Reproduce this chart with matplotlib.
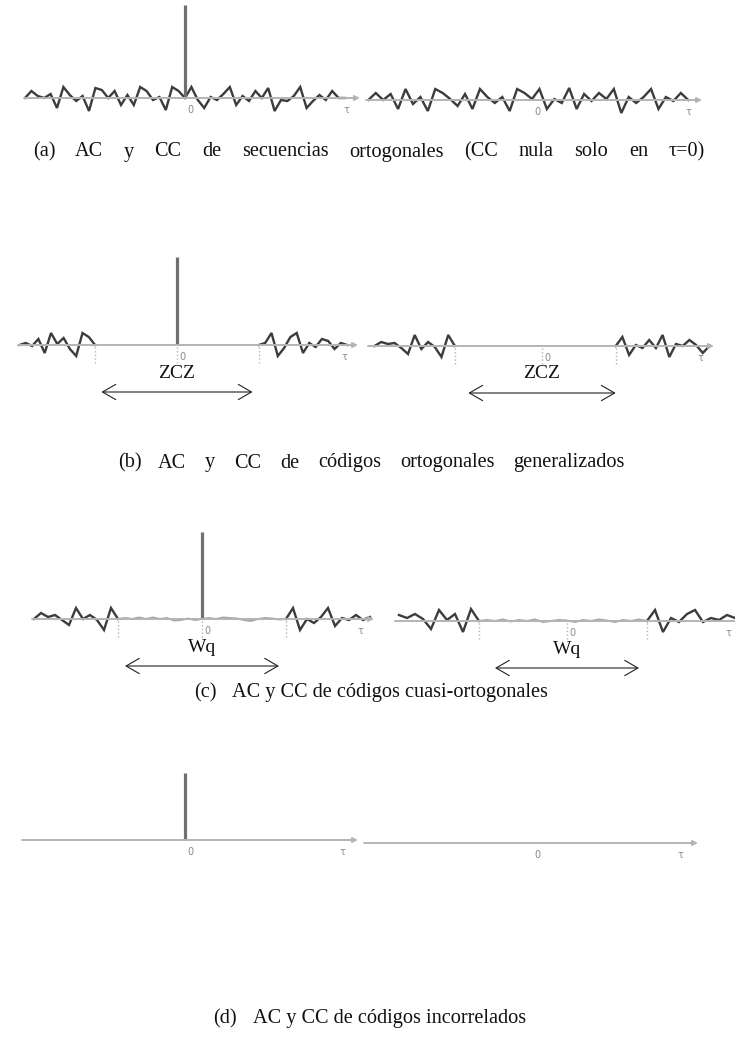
import numpy as np
import matplotlib.pyplot as plt

W, H = 735, 1037

# (a) orthogonal sequences: AC side lobes around the peak, and CC
a_ac_left = [0, 7, 2, 0, 4, -10, 11, 3, -3, 2, -13, 10, 8, 0, 7, -7, 3, -7, 11, 7, -2, 1, -12, 11, 7]
a_ac_right = [11, -2, -10, 1, -2, 4, 11, -7, 2, -3, 7, 0, 10, -13, -2, -3, 2, 11, -10, -3, 3, -2, 7, 0, 0]
a_ac_peak = 93
a_cc = [0, 7, 0, 6, -9, 11, -4, 3, -11, 11, 7, 1, -6, 6, -9, 11, 3, -3, 3, -11, 11, 7,
        1, 11, -9, 1, -3, 12, -9, 6, -1, 7, 1, 11, -13, 3, -3, 3, 11, -9, 3, -1, 7, 0]

# (b) generalized orthogonal codes: zero correlation zone
b_ac_left = [0, 2, -1, 6, -8, 12, 1, 7, -4, -11, 12, 8, 0]
b_ac_right = [0, 2, 12, -11, -3, 8, 12, -8, 2, -2, 6, 4, -4, 2, 0]
b_ac_peak = 88
b_cc_left = [0, 4, 2, 3, -2, -8, 11, -3, 4, -1, -11, 11, 0]
b_cc_right = [0, 9, -9, 1, -2, 6, -2, 11, -11, 2, 0, 6, 1, -7, 0]
b_zcz = [12, 11]

# (c) quasi-orthogonal codes: small residual inside Wq
c_ac_left = [0, 6, 2, 4, -1, -6, 11, 0, 4, -1, -11, 11, 0]
c_ac_ripple = [0, 1, 0, 1.5, 0, 1.5, 0, 1, -1.5, -1, 0.5, -1, 0, 1, 0, 1.5, 1, 0.5, -1, -2, 0, 1, 0.5, -0.5, 0]
c_ac_right = [0, 11, -11, 0, -4, 2, 11, -7, 1, -1, 4, -1, 2]
c_ac_peak = 87
c_cc_left = [6, 3, 7, 2, -8, 11, 1, 7, -11, 12, 0]
c_cc_ripple = [0, 1, 0, 1.5, -0.5, 1, 0, 1.5, -1, 0, 1, 0.5, -1, 1, 0, 1.5, 0.5, -1, 1, 0, 1.5, 0]
c_cc_right = [0, 11, -11, 3, -1, 7, 11, -1, 3, 1, 6, 3]
c_wq = [11, 9]

# (d) uncorrelated codes
d_ac_peak = 67

caption_tags = ["(a)", "(b)", "(c)", "(d)"]
caption_texts = [
    "AC y CC de secuencias ortogonales (CC nula solo en \u03c4=0)",
    "AC y CC de códigos ortogonales generalizados",
    "AC y CC de códigos cuasi-ortogonales",
    "AC y CC de códigos incorrelados",
]

LINE = '#3c3c3c'
AXIS = '#b4b4b4'
SPIKE = '#707070'
RIPPLE = '#a6a6a6'
LABEL = '#8a8a8a'
SERIF = 'Liberation Serif'

fig = plt.figure(figsize=(W / 100, H / 100), dpi=100)


def panel(x0, x1, base, zero, step, tau_off=-14, above=100, below=60):
    ax = fig.add_axes([x0 / W, 1 - (base + below) / H, (x1 - x0) / W, (above + below) / H])
    ax.set_xlim((x0 - zero) / step, (x1 - zero) / step)
    ax.set_ylim(-below, above)
    ax.axis('off')
    lo, hi = ax.get_xlim()
    ax.annotate('', xy=(hi, 0), xytext=(lo, 0),
                arrowprops=dict(arrowstyle='-|>', color=AXIS, lw=1.4, mutation_scale=7,
                                shrinkA=0, shrinkB=0))
    ax.annotate('0', xy=(0, 0), xytext=(5, -12), textcoords='offset pixels',
                fontsize=7, color=LABEL, ha='center', va='center')
    ax.annotate('\u03c4', xy=(hi, 0), xytext=(tau_off, -12), textcoords='offset pixels',
                fontsize=7, color=LABEL, ha='center', va='center')
    return ax


def lobe(ax, start, vals, color=LINE, lw=1.7):
    lags = start + np.arange(len(vals))
    ax.plot(lags, vals, color=color, lw=lw, solid_joinstyle='miter')


def spike(ax, peak):
    ax.vlines(0, 0, peak, color=SPIKE, lw=2.3)


def marks(ax, lags):
    ax.vlines(lags, -18, 0, color=AXIS, lw=1.0, linestyles=':')


def zone(ax, half, text):
    ax.annotate('', xy=(-half, -47), xytext=(half, -47),
                arrowprops=dict(arrowstyle='<->,head_length=0.95,head_width=0.55',
                                color='#222222', lw=0.8, shrinkA=0, shrinkB=0))
    ax.text(0, -28, text, ha='center', va='center', fontsize=14, family=SERIF, color='#111111')


def caption(y, tag, text, x_tag, x0, x1=None):
    # tag on its own, then the words; stretched to x1 when given (justified line)
    kw = dict(va='center', fontsize=14.6, family=SERIF, color='#111111')
    fig.text(x_tag / W, 1 - y / H, tag, ha='left', **kw)
    if x1 is None:
        fig.text(x0 / W, 1 - y / H, text, ha='left', **kw)
        return
    words = [fig.text(0, 1 - y / H, w, ha='left', **kw) for w in text.split()]
    renderer = fig.canvas.get_renderer()
    widths = [t.get_window_extent(renderer).width for t in words]
    gap = (x1 - x0 - sum(widths)) / (len(words) - 1)
    x = x0
    for t, w in zip(words, widths):
        t.set_x(x / W)
        x += w + gap


# (a)
ax = panel(24, 360, 98, 185, 6.4)
lobe(ax, -25, a_ac_left + [0] + a_ac_right)
spike(ax, a_ac_peak)
ax = panel(366, 702, 100, 532, 7.44)
lobe(ax, -22, a_cc)

# (b)
ax = panel(18, 358, 345, 177, 6.3)
lobe(ax, -25, b_ac_left)
lobe(ax, 13, b_ac_right)
spike(ax, b_ac_peak)
marks(ax, [-13, 0, 13])
zone(ax, b_zcz[0], 'ZCZ')
ax = panel(368, 714, 346, 542, 6.7)
lobe(ax, -25, b_cc_left)
lobe(ax, 11, b_cc_right)
marks(ax, [-13, 0, 11])
zone(ax, b_zcz[1], 'ZCZ')

# (c)
ax = panel(32, 374, 619, 202, 7.0)
lobe(ax, -24, c_ac_left)
lobe(ax, -12, c_ac_ripple, color=RIPPLE, lw=1.4)
lobe(ax, 12, c_ac_right)
spike(ax, c_ac_peak)
marks(ax, [-12, 0, 12])
zone(ax, c_wq[0], 'Wq')
ax = panel(395, 742, 621, 567, 8.0, tau_off=-14)
lobe(ax, -21, c_cc_left)
lobe(ax, -11, c_cc_ripple, color=RIPPLE, lw=1.4)
lobe(ax, 10, c_cc_right)
marks(ax, [-11, 0, 10])
zone(ax, c_wq[1], 'Wq')

# (d)
ax = panel(22, 358, 840, 185, 6.5, tau_off=-16)
spike(ax, d_ac_peak)
ax = panel(364, 698, 843, 532, 6.5, tau_off=-18)

caption(152, caption_tags[0], caption_texts[0], 33, 75, 705)
caption(463, caption_tags[1], caption_texts[1], 118, 158, 625)
caption(693, caption_tags[2], caption_texts[2], 194, 232)
caption(1019, caption_tags[3], caption_texts[3], 213, 253)

fig.savefig('out.png', dpi=100)
